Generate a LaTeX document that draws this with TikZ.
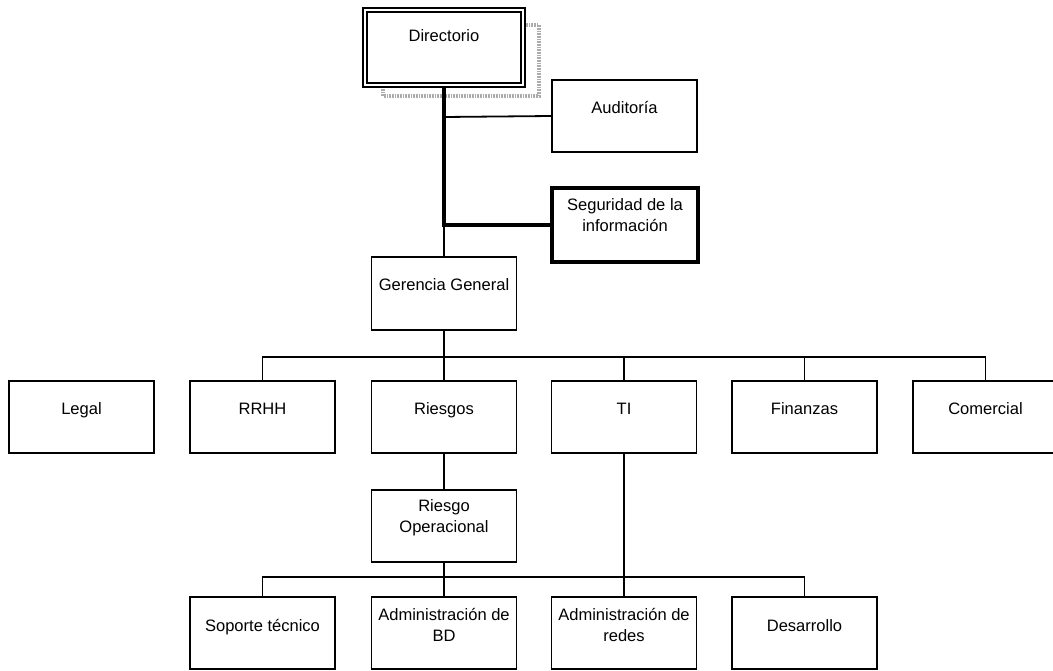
\documentclass[tikz,border=0pt]{standalone}
\usepackage{fontspec}
\setmainfont{Liberation Sans}
\begin{document}
\begin{tikzpicture}[x=0.75pt, y=-0.75pt,
  orgbox/.style={draw, fill=white, line width=1.9pt*0.75, inner sep=0pt,
    minimum width=145*0.75pt, minimum height=72*0.75pt},
  lbl/.style={anchor=center, yshift=-30*0.75pt, align=center, inner sep=0pt,
    text height=9pt, text depth=2.6pt,
    font=\fontsize{12.4}{15.75}\selectfont},
  lbltwo/.style={anchor=center, yshift=-29*0.75pt, align=center, inner sep=0pt,
    font=\fontsize{12.4}{15.75}\selectfont},
  link/.style={line width=1.8pt*0.75},
  heavy/.style={line width=4.5pt*0.75},
  shade/.style={draw=gray!65, line width=3.5pt*0.75, dash pattern=on 1.2pt off 0.8pt}]
\useasboundingbox (0,0) rectangle (1053,671);
\clip (0,0) rectangle (1053,671);

% offset frame behind the board box
\draw[shade] (383,25) rectangle (539,96);

% top of the chart
\node[orgbox, minimum width=158*0.75pt, minimum height=75*0.75pt,
  double, double distance=1.8pt, line width=1.2pt,
  label={[lbl, yshift=2*0.75pt]north:Directorio}] (dir) at (444,47.5) {};
\node[orgbox, label={[lbl]north:Auditoría}] (aud) at (624.5,116) {};
\node[orgbox, heavy, minimum width=146*0.75pt, minimum height=74*0.75pt,
  label={[lbltwo]north:Seguridad de la\\información}] (seg) at (625,225) {};
\node[orgbox, minimum height=73*0.75pt, label={[lbl]north:Gerencia General}] (ger) at (444,293.5) {};

% departments
\node[orgbox, label={[lbl]north:Legal}]     (leg) at (81.5,417) {};
\node[orgbox, label={[lbl]north:RRHH}]      (rrhh) at (262.5,417) {};
\node[orgbox, label={[lbl]north:Riesgos}]   (ries) at (444,417) {};
\node[orgbox, label={[lbl]north:TI}]        (ti) at (624,417) {};
\node[orgbox, label={[lbl]north:Finanzas}]  (fin) at (804.5,417) {};
\node[orgbox, label={[lbl]north:Comercial}] (com) at (985.5,417) {};

\node[orgbox, label={[lbltwo]north:Riesgo\\Operacional}] (rop) at (444,526) {};

% lower units
\node[orgbox, label={[lbl, yshift=-1*0.75pt]north:Soporte técnico}] (sop) at (262.5,633) {};
\node[orgbox, label={[lbltwo]north:Administración de\\BD}] (abd) at (444,633) {};
\node[orgbox, label={[lbltwo]north:Administración de\\redes}] (ared) at (624,633) {};
\node[orgbox, label={[lbl, yshift=-1*0.75pt]north:Desarrollo}] (des) at (804.5,633) {};

% junction points
\coordinate (audj) at (444,117);
\coordinate (segj) at (444,225);
\coordinate (bus) at (444,357);
\coordinate (sbus) at (444,577);

% connectors
\draw[link] (audj) -- (aud.west);
\draw[heavy] (dir.south) |- (seg.west);
\draw[link] (segj) -- (ger.north);
\draw[link] (ger.south) -- (ries.north);
\draw[link] (rrhh.north) |- (bus) -| (com.north);
\draw[link] (ti.north) -- (ti.north |- bus);
\draw[link] (fin.north) -- (fin.north |- bus);
\draw[link] (ries.south) -- (rop.north);
\draw[link] (rop.south) -- (abd.north);
\draw[link] (sop.north) |- (sbus) -| (des.north);
\draw[link] (ti.south) -- (ared.north);
\end{tikzpicture}
\end{document}
